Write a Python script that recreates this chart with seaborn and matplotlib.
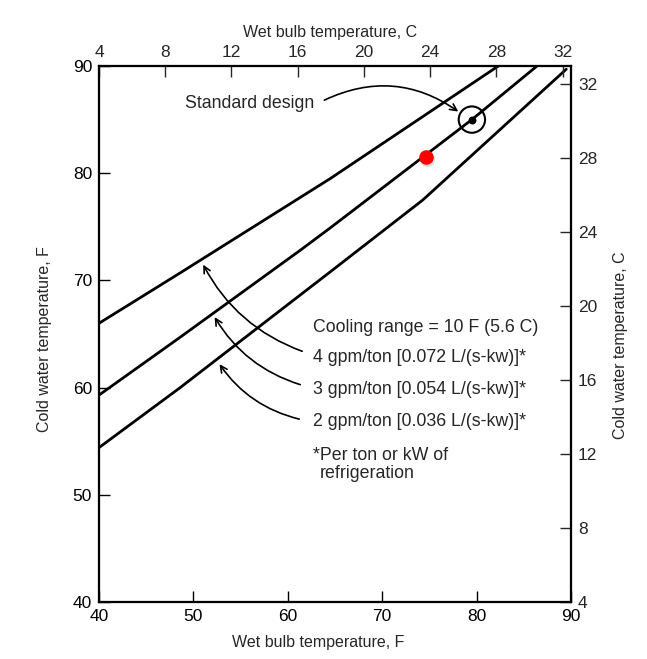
import matplotlib
matplotlib.use("Agg")
import matplotlib.pyplot as plt
import seaborn as sns
import pandas as pd

# wet bulb (F) / cold water (F)
wb_4gpm = [40.0, 48.6, 64.5, 82.3]
cw_4gpm = [66.0, 70.7, 79.5, 90.0]

wb_3gpm = [40.0, 48.6, 61.3, 64.5, 79.5, 86.4]
cw_3gpm = [59.3, 64.7, 72.8, 74.9, 85.0, 90.0]

wb_2gpm = [40.0, 48.6, 64.5, 74.3, 89.5]
cw_2gpm = [54.4, 60.0, 70.8, 77.5, 89.7]

design_wb, design_cw = 79.5, 85.0
red_wb, red_cw = 74.6, 81.5

f_ticks = [40, 50, 60, 70, 80, 90]
c_ticks_top = [4, 8, 12, 16, 20, 24, 28, 32]
c_ticks_right = [4, 8, 12, 16, 20, 24, 28, 32]

labels = ["4 gpm/ton [0.072 L/(s-kw)]*",
          "3 gpm/ton [0.054 L/(s-kw)]*",
          "2 gpm/ton [0.036 L/(s-kw)]*"]
# arrow tips on each line, arrow tails at the label
tips = [(50.9, 71.7), (52.1, 66.8), (52.6, 62.4)]
tails = [(61.8, 63.3), (61.6, 60.2), (61.5, 57.0)]
label_y = [62.85, 59.8, 56.8]

sns.set_theme(style="white")
plt.rcParams["font.family"] = ["Liberation Sans", "DejaVu Sans"]
FS_TICK = 12.5
FS_LAB = 11.5
FS_TXT = 12.8

df = pd.concat([
    pd.DataFrame({"wb": wb_4gpm, "cw": cw_4gpm, "flow": "4"}),
    pd.DataFrame({"wb": wb_3gpm, "cw": cw_3gpm, "flow": "3"}),
    pd.DataFrame({"wb": wb_2gpm, "cw": cw_2gpm, "flow": "2"}),
])

fig = plt.figure(figsize=(6.47, 6.59), dpi=100)
ax = fig.add_axes([99 / 647, 1 - 602 / 659, 472 / 647, 536 / 659])

sns.lineplot(data=df, x="wb", y="cw", units="flow", estimator=None,
             color="black", linewidth=2, sort=False, ax=ax)

# standard design marker
ax.scatter([design_wb], [design_cw], s=360, facecolors="none",
           edgecolors="black", linewidths=1.5, zorder=4)
ax.scatter([design_wb], [design_cw], s=22, color="black", zorder=5)
# red point with a soft shadow
ax.scatter([red_wb + 0.15], [red_cw - 0.2], s=120, color="#bbbbbb",
           alpha=0.5, linewidths=0, zorder=4)
ax.scatter([red_wb], [red_cw], s=110, color="#ff0000", linewidths=0, zorder=5)

ax.set_xlim(40, 90)
ax.set_ylim(40, 90)
ax.set_xticks(f_ticks)
ax.set_yticks(f_ticks)
ax.tick_params(direction="in", length=8, width=1, colors="black",
               labelsize=FS_TICK, pad=5)
ax.set_xlabel("Wet bulb temperature, F", fontsize=FS_LAB)
ax.set_ylabel("Cold water temperature, F", fontsize=FS_LAB)
ax.xaxis.set_label_coords(0.464, -0.062)
ax.yaxis.set_label_coords(-0.10, 0.49)

for s in ax.spines.values():
    s.set_color("black")
    s.set_linewidth(1.5)

# Celsius axes
ax_top = ax.twiny()
ax_top.set_xlim(4, 32.5)
ax_top.set_xticks(c_ticks_top)
ax_top.tick_params(direction="in", length=8, width=1, labelsize=FS_TICK, pad=4)
ax_top.set_xlabel("Wet bulb temperature, C", fontsize=FS_LAB)
ax_top.xaxis.set_label_coords(0.489, 1.055)

ax_right = ax.twinx()
ax_right.set_ylim(4, 32.96)
ax_right.set_yticks(c_ticks_right)
ax_right.tick_params(direction="in", length=8, width=1, labelsize=FS_TICK, pad=5)
ax_right.set_ylabel("Cold water temperature, C", fontsize=FS_LAB)
ax_right.yaxis.set_label_coords(1.088, 0.48)
for a in (ax_top, ax_right):
    for s in a.spines.values():
        s.set_color("black")
        s.set_linewidth(1.5)

# annotations
ax.annotate("", xy=(78.3, 85.6), xytext=(63.6, 86.7),
            arrowprops=dict(arrowstyle="->", color="black", lw=1.2,
                            connectionstyle="arc3,rad=-0.3"))
ax.text(56.0, 86.5, "Standard design", fontsize=FS_TXT, ha="center", va="center")

ax.text(62.7, 65.65, "Cooling range = 10 F (5.6 C)", fontsize=FS_TXT, va="center")
for lab, ly, tip, tail in zip(labels, label_y, tips, tails):
    ax.text(62.7, ly, lab, fontsize=FS_TXT, va="center")
    ax.annotate("", xy=tip, xytext=tail,
                arrowprops=dict(arrowstyle="->", color="black", lw=1.2,
                                connectionstyle="arc3,rad=-0.2"))
ax.text(62.7, 53.7, "*Per ton or kW of", fontsize=FS_TXT, va="center")
ax.text(63.4, 52.0, "refrigeration", fontsize=FS_TXT, va="center")

fig.savefig("out.png", dpi=100)
